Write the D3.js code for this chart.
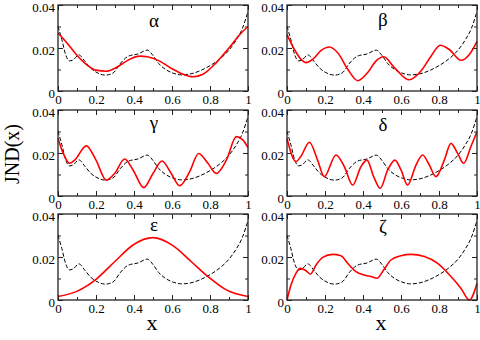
<!DOCTYPE html>
<html>
<head>
<meta charset="utf-8">
<script src="https://cdn.jsdelivr.net/npm/d3@7"></script>
<style>
  html, body { margin: 0; padding: 0; background: #fff; }
  svg { display: block; font-family: "Liberation Serif", "Times New Roman", serif; }
</style>
</head>
<body>
<svg id="chart" width="480" height="340"></svg>
<script>
// ---- data ----

// black dashed reference curve, same in every panel
const refX = [0, 0.02, 0.04, 0.06, 0.08, 0.11, 0.14, 0.17, 0.20, 0.25, 0.29, 0.33, 0.37, 0.42, 0.47,
              0.50, 0.53, 0.57, 0.61, 0.65, 0.70, 0.75, 0.80, 0.85, 0.90, 0.94, 0.97, 1.00];
const refY = [0.030, 0.024, 0.017, 0.014, 0.0145, 0.0168, 0.014, 0.0108, 0.0088, 0.0074, 0.0084, 0.013, 0.0162, 0.0172, 0.019,
              0.0165, 0.0128, 0.0098, 0.0082, 0.0075, 0.0080, 0.0095, 0.0118, 0.0148, 0.019, 0.024, 0.029, 0.037];

const alphaX = [0, 0.044, 0.096, 0.149, 0.2, 0.254, 0.307, 0.36, 0.43, 0.47, 0.535, 0.605, 0.658, 0.71, 0.763, 0.833, 0.9, 0.956, 1];
const alphaY = [0.027, 0.0227, 0.017, 0.0124, 0.0097, 0.0092, 0.0109, 0.0139, 0.0162, 0.0159, 0.0139, 0.0101, 0.0078, 0.0066, 0.0078, 0.0132, 0.020, 0.0262, 0.030];

const betaX = [0, 0.039, 0.074, 0.1, 0.135, 0.18, 0.223, 0.267, 0.32, 0.372, 0.425, 0.468, 0.509, 0.565, 0.644, 0.705, 0.758, 0.807, 0.854, 0.916, 0.96, 1];
const betaY = [0.0262, 0.0193, 0.0147, 0.0132, 0.0147, 0.0189, 0.0205, 0.0178, 0.0101, 0.0048, 0.0086, 0.0139, 0.0159, 0.0109, 0.0052, 0.0093, 0.0162, 0.0213, 0.0193, 0.0143, 0.017, 0.0231];

const gammaX = [0, 0.026, 0.061, 0.088, 0.149, 0.2, 0.254, 0.298, 0.351, 0.395, 0.451, 0.5, 0.547, 0.596, 0.64, 0.693, 0.74, 0.789, 0.833, 0.886, 0.939, 0.974, 1];
const gammaY = [0.0268, 0.0202, 0.0152, 0.0167, 0.0233, 0.0167, 0.0074, 0.0105, 0.0172, 0.0121, 0.0039, 0.0105, 0.0163, 0.0105, 0.0048, 0.0113, 0.0198, 0.0152, 0.0105, 0.0167, 0.0276, 0.026, 0.0225];

const deltaX = [0, 0.047, 0.074, 0.118, 0.161, 0.196, 0.258, 0.302, 0.346, 0.389, 0.421, 0.456, 0.491, 0.53, 0.568, 0.6, 0.635, 0.679, 0.714, 0.749, 0.784, 0.828, 0.863, 0.898, 0.93, 0.968, 1];
const deltaY = [0.0268, 0.016, 0.0186, 0.025, 0.0167, 0.009, 0.0191, 0.0136, 0.0051, 0.0136, 0.0167, 0.009, 0.0036, 0.0121, 0.0167, 0.0121, 0.0051, 0.0144, 0.0191, 0.0144, 0.009, 0.0167, 0.0245, 0.0198, 0.0152, 0.023, 0.0299];

const epsX = [0, 0.096, 0.2, 0.298, 0.395, 0.5, 0.605, 0.702, 0.789, 0.886, 1];
const epsY = [0.0016, 0.0039, 0.0096, 0.0178, 0.0256, 0.029, 0.0253, 0.0178, 0.0109, 0.0047, 0.0016];

const zetaX = [0, 0.021, 0.047, 0.07, 0.1, 0.123, 0.153, 0.188, 0.24, 0.284, 0.32, 0.363, 0.407, 0.442, 0.474, 0.509, 0.547, 0.6, 0.653, 0.723, 0.793, 0.863, 0.916, 0.96, 1];
const zetaY = [0, 0.007, 0.0124, 0.0147, 0.0136, 0.012, 0.0163, 0.0198, 0.0212, 0.0206, 0.017, 0.0132, 0.0116, 0.0109, 0.0101, 0.014, 0.0186, 0.0206, 0.0212, 0.0202, 0.017, 0.0109, 0.0054, 0, 0.0078];

const panelNames = ["α", "β", "γ", "δ", "ε", "ζ"];
const panelX = [alphaX, betaX, gammaX, deltaX, epsX, zetaX];
const panelY = [alphaY, betaY, gammaY, deltaY, epsY, zetaY];

const xMajor = [0, 0.2, 0.4, 0.6, 0.8, 1];
const xMinor = [0.1, 0.3, 0.5, 0.7, 0.9];
const xTickLabels = ["0", "0.2", "0.4", "0.6", "0.8", "1"];
const yMajor = [0, 0.02, 0.04];
const yMinor = [0.01, 0.03];
const yTickLabels = ["0", "0.02", "0.04"];

// ---- layout ----
const colLeft = [58, 287];
const rowTop = [5, 110, 214];
const W = 190, H = 86;
const nameDy = [22, 21, 19, 21, 17, 19];   // greek letter baseline below panel top
const serif = "'Liberation Serif', 'Times New Roman', serif";

const svg = d3.select("#chart");

const zip = (xs, ys) => xs.map((x, i) => [x, ys[i]]);
const refData = zip(refX, refY);

panelNames.forEach((name, i) => {
    const col = i % 2, row = Math.floor(i / 2);
    const g = svg.append("g").attr("transform", `translate(${colLeft[col]},${rowTop[row]})`);

    const x = d3.scaleLinear().domain([0, 1]).range([0, W]);
    const y = d3.scaleLinear().domain([0, 0.04]).range([H, 0]);

    const line = d3.line().x(d => x(d[0])).y(d => y(d[1])).curve(d3.curveMonotoneX);

    // ticks, all pointing inward
    const addAxis = (axis, tr) => {
        const a = g.append("g").attr("transform", tr).call(axis);
        a.attr("font-family", serif);
        a.select(".domain").remove();
        a.selectAll("line").attr("stroke", "#222").attr("stroke-width", 1);
        a.selectAll("text").attr("fill", "#000").style("font-size", "13px").style("font-family", serif);
        return a;
    };
    const fx = d => xTickLabels[xMajor.indexOf(d)];
    const fy = d => yTickLabels[yMajor.indexOf(d)];

    addAxis(d3.axisBottom(x).tickValues(xMajor).tickSize(-5).tickPadding(4).tickFormat(fx), `translate(0,${H})`);
    addAxis(d3.axisBottom(x).tickValues(xMinor).tickSize(-3).tickFormat(""), `translate(0,${H})`);
    addAxis(d3.axisTop(x).tickValues(xMajor).tickSize(-5).tickFormat(""), "translate(0,0)");
    addAxis(d3.axisTop(x).tickValues(xMinor).tickSize(-3).tickFormat(""), "translate(0,0)");
    addAxis(d3.axisLeft(y).tickValues(yMajor).tickSize(-5).tickPadding(3).tickFormat(fy), "translate(0,0)")
        .selectAll("text").attr("dy", "0.5em");
    addAxis(d3.axisLeft(y).tickValues(yMinor).tickSize(-3).tickFormat(""), "translate(0,0)");
    addAxis(d3.axisRight(y).tickValues(yMajor).tickSize(-5).tickFormat(""), `translate(${W},0)`);
    addAxis(d3.axisRight(y).tickValues(yMinor).tickSize(-3).tickFormat(""), `translate(${W},0)`);

    // curves
    g.append("path").datum(refData)
        .attr("d", line)
        .attr("fill", "none")
        .attr("stroke", "#000")
        .attr("stroke-width", 1)
        .attr("stroke-dasharray", "4,2");

    g.append("path").datum(zip(panelX[i], panelY[i]))
        .attr("d", line)
        .attr("fill", "none")
        .attr("stroke", "#ff0000")
        .attr("stroke-width", 1.6);

    // frame
    g.append("rect")
        .attr("width", W).attr("height", H)
        .attr("fill", "none")
        .attr("stroke", "#222")
        .attr("stroke-width", 1.3);

    g.append("text")
        .attr("x", x(0.505))
        .attr("y", nameDy[i])
        .attr("text-anchor", "middle")
        .style("font-size", "19px")
        .text(name);
});

// axis titles
svg.append("text")
    .attr("transform", "translate(19,154) rotate(-90)")
    .attr("text-anchor", "middle")
    .style("font-size", "20px")
    .text("JND(x)");

colLeft.forEach(cx => {
    svg.append("text")
        .attr("x", cx + W / 2 - 1)
        .attr("y", 330)
        .attr("text-anchor", "middle")
        .style("font-size", "22px")
        .text("x");
});
</script>
</body>
</html>
